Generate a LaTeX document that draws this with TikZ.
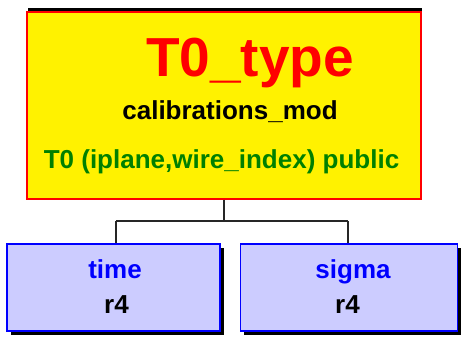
\documentclass[tikz,border=0pt]{standalone}
\usepackage{fontspec}
\setmainfont{Liberation Sans}
\usetikzlibrary{positioning,shadows}

\begin{document}
\begin{tikzpicture}[x=1pt, y=-1pt,
            typenode/.style={rectangle, draw=red, fill=yellow, line width=1.4pt, inner sep=0pt,
                minimum width=394pt, minimum height=187pt,
                drop shadow={shadow xshift=1pt, shadow yshift=4pt, fill=black, opacity=1}},
            fieldnode/.style={rectangle, draw=blue, fill=blue!20, line width=1.4pt, inner sep=0pt,
                minimum width=213pt, minimum height=87pt,
                drop shadow={shadow xshift=3.5pt, shadow yshift=-3.5pt, fill=black, opacity=1}},
            label/.style={font=\bfseries\fontsize{26}{26}\selectfont, anchor=base, inner sep=0pt},
            link/.style={line width=1.3pt, black!85},
        ]
            \useasboundingbox (0,0) rectangle (462,339);

            %Nodes
            \node[typenode](type) at (224,105.5) {};
            \node[fieldnode](time) at (113.5,287.5) {};
            \node[fieldnode, minimum width=217pt](sigma)[right=19pt of time] {};

            %Texts
            \node[label, text=red, font=\bfseries\fontsize{55}{55}\selectfont](tname) at (250,77) {T0\_type};
            \node[label](tmod) at (230,120) {calibrations\_mod};
            \node[label, text=green!50!black](tpub) at (221.5,168) {T0 (iplane,wire\_index) public};
            \node[label, text=blue](fname1) at (115,278) {time};
            \node[label](fkind1) at (116.5,313) {r4};
            \node[label, text=blue](fname2) at (353,278) {sigma};
            \node[label](fkind2) at (347.5,313) {r4};

            %Lines
            \coordinate (busL) at (116,221);
            \coordinate (busR) at (348,221);
            \draw[link](type.south) -- (type.south |- busL);
            \draw[link](busL) -- (busR);
            \draw[link](busL) -- (busL |- time.north);
            \draw[link](busR) -- (busR |- sigma.north);
        \end{tikzpicture}
\end{document}
